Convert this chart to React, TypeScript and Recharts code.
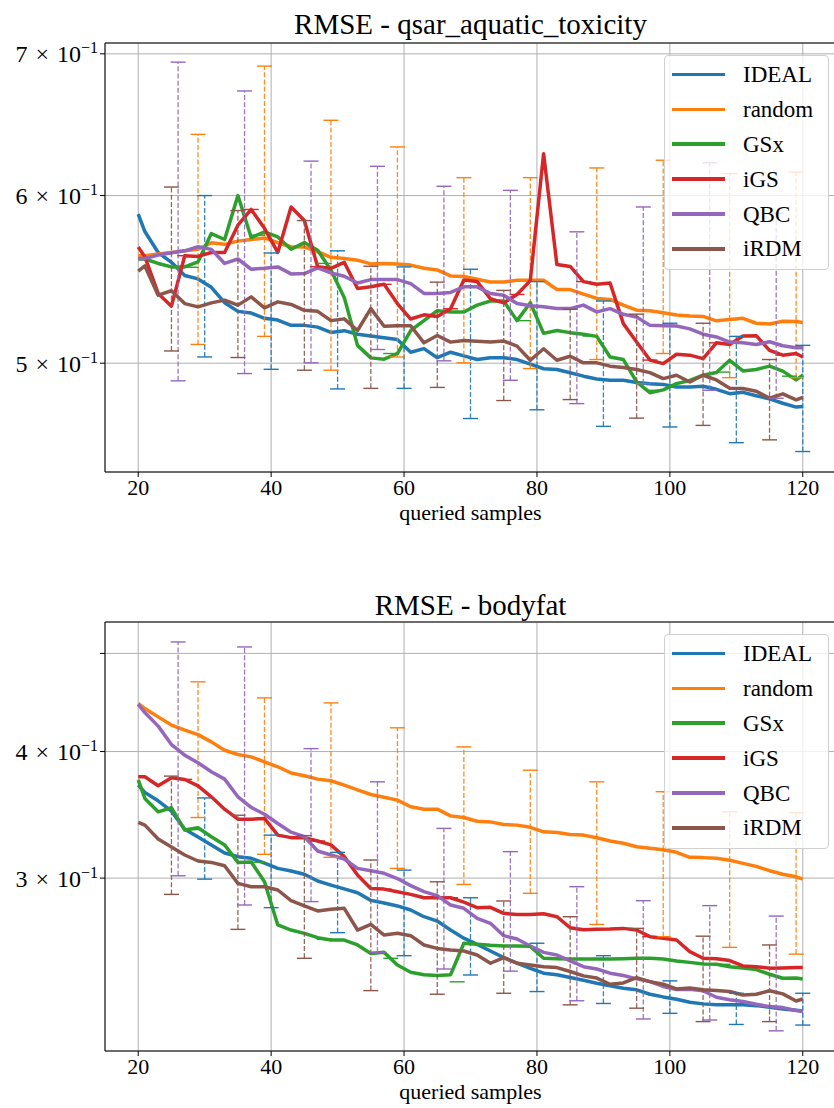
import React from 'react';
import {
  ComposedChart,
  Line,
  Scatter,
  XAxis,
  YAxis,
  CartesianGrid,
  ErrorBar,
  ReferenceLine,
} from 'recharts';

const FONT = '"Liberation Serif", "DejaVu Serif", serif';

const methods = ['IDEAL', 'random', 'GSx', 'iGS', 'QBC', 'iRDM'];
const colors = ['#1f77b4', '#ff7f0e', '#2ca02c', '#d62728', '#9467bd', '#8c564b'];

const samples = [
  20, 21, 23, 25, 27, 29, 31, 33, 35, 37, 39, 41, 43,
  45, 47, 49, 51, 53, 55, 57, 59, 61, 63, 65, 67, 69,
  71, 73, 75, 77, 79, 81, 83, 85, 87, 89, 91, 93, 95,
  97, 99, 101, 103, 105, 107, 109, 111, 113, 115, 117, 119, 120,
];
const xTicks = [20, 40, 60, 80, 100, 120];

// where each method has its error bar (every 10 queries, shifted per method)
const idealErrX = [30, 40, 50, 60, 70, 80, 90, 100, 110, 120];
const randomErrX = [29, 39, 49, 59, 69, 79, 89, 99, 109, 119];
const gsxErrX = [28, 38, 48, 58, 68, 78, 88, 98, 108, 118];
const igsErrX = [27, 37, 47, 57, 67, 77, 87, 97, 107, 117];
const qbcErrX = [26, 36, 46, 56, 66, 76, 86, 96, 106, 116];
const irdmErrX = [25, 35, 45, 55, 65, 75, 85, 95, 105, 115];

// ---- RMSE - qsar_aquatic_toxicity ----
const qsarIdeal = [
  0.588, 0.577, 0.564, 0.558, 0.550, 0.548, 0.543, 0.534, 0.529, 0.528, 0.525, 0.524, 0.521,
  0.521, 0.520, 0.517, 0.518, 0.516, 0.515, 0.514, 0.513, 0.506, 0.508, 0.503, 0.506, 0.504,
  0.502, 0.503, 0.503, 0.502, 0.4995, 0.497, 0.4966, 0.4948, 0.493, 0.4915, 0.4908, 0.4908, 0.4896,
  0.489, 0.4886, 0.4872, 0.4872, 0.4876, 0.486, 0.4837, 0.4844, 0.4826, 0.481, 0.4787, 0.4767, 0.477,
];
const qsarRandom = [
  0.562, 0.562, 0.563, 0.564, 0.565, 0.566, 0.570, 0.569, 0.571, 0.572, 0.573, 0.570, 0.5675,
  0.5673, 0.5645, 0.561, 0.5603, 0.5593, 0.557, 0.5573, 0.557, 0.5563, 0.5544, 0.5534, 0.5498, 0.5494,
  0.5478, 0.5462, 0.5462, 0.5472, 0.5472, 0.5472, 0.5417, 0.5417, 0.539, 0.5365, 0.5359, 0.5326, 0.5297,
  0.5294, 0.5282, 0.5269, 0.5263, 0.5261, 0.5236, 0.5244, 0.525, 0.5222, 0.5218, 0.5233, 0.5232, 0.5226,
];
const qsarGsx = [
  0.560, 0.560, 0.5573, 0.5552, 0.5552, 0.5583, 0.5757, 0.572, 0.600, 0.5732, 0.5768, 0.5736, 0.566,
  0.5701, 0.5654, 0.5532, 0.537, 0.5098, 0.5029, 0.5022, 0.5053, 0.5181, 0.5237, 0.5294, 0.5286, 0.5286,
  0.5326, 0.535, 0.535, 0.5237, 0.534, 0.5165, 0.5181, 0.5169, 0.516, 0.5148, 0.5034, 0.502, 0.490,
  0.4842, 0.4857, 0.489, 0.4907, 0.4935, 0.495, 0.5016, 0.4958, 0.4966, 0.4984, 0.4957, 0.491, 0.4935,
];
const qsarIgs = [
  0.5674, 0.5613, 0.5394, 0.532, 0.562, 0.5616, 0.564, 0.564, 0.581, 0.591, 0.579, 0.564, 0.5926,
  0.584, 0.5553, 0.5543, 0.558, 0.5423, 0.5433, 0.5448, 0.5335, 0.5246, 0.527, 0.526, 0.5305, 0.5473,
  0.5464, 0.5363, 0.5339, 0.5388, 0.547, 0.628, 0.5567, 0.5555, 0.5464, 0.5448, 0.5456, 0.522, 0.5117,
  0.5017, 0.4998, 0.5049, 0.5044, 0.5025, 0.5112, 0.5103, 0.515, 0.5152, 0.507, 0.5044, 0.5053, 0.5034,
];
const qsarQbc = [
  0.5603, 0.5603, 0.5624, 0.5638, 0.565, 0.5675, 0.5659, 0.5573, 0.560, 0.5538, 0.5544, 0.5552, 0.551,
  0.5512, 0.5546, 0.5516, 0.5496, 0.5456, 0.5476, 0.5476, 0.5476, 0.5452, 0.5394, 0.5394, 0.540, 0.5433,
  0.5433, 0.5394, 0.5384, 0.5335, 0.5322, 0.5316, 0.5306, 0.5306, 0.5326, 0.5287, 0.5306, 0.5273, 0.5258,
  0.521, 0.5208, 0.5206, 0.519, 0.516, 0.5145, 0.5116, 0.5112, 0.5103, 0.5118, 0.5096, 0.5085, 0.5085,
];
const qsarIrdm = [
  0.5527, 0.5558, 0.5384, 0.541, 0.5335, 0.5316, 0.5339, 0.5355, 0.5326, 0.5374, 0.531, 0.5345, 0.533,
  0.5296, 0.529, 0.5237, 0.5247, 0.5181, 0.5306, 0.5205, 0.5208, 0.5208, 0.5112, 0.5153, 0.5116, 0.5125,
  0.5121, 0.5117, 0.5122, 0.5094, 0.5016, 0.5079, 0.5016, 0.5038, 0.5002, 0.5002, 0.4984, 0.4977, 0.4966,
  0.4949, 0.4917, 0.4935, 0.4899, 0.4935, 0.491, 0.4866, 0.4864, 0.485, 0.4813, 0.4836, 0.4805, 0.4818,
];

const qsarIdealLow = [0.5034, 0.4967, 0.4862, 0.4865, 0.4708, 0.4753, 0.4668, 0.4665, 0.4586, 0.4542];
const qsarIdealHigh = [0.600, 0.5637, 0.565, 0.5552, 0.5538, 0.5464, 0.535, 0.5222, 0.5148, 0.5098];
const qsarRandomLow = [0.5103, 0.5148, 0.4962, 0.5034, 0.5002, 0.4971, 0.502, 0.5053, 0.4922, 0.4922];
const qsarRandomHigh = [0.6413, 0.6907, 0.6512, 0.6326, 0.6118, 0.6118, 0.6183, 0.6235, 0.6145, 0.6155];
const qsarGsxBar = [0.555, 0.5747, 0.5573, 0.5053, 0.5286, 0.5237, 0.515, 0.4855, 0.4952, 0.493];
const qsarIgsBar = [0.562, 0.591, 0.5553, 0.5448, 0.5305, 0.5388, 0.5464, 0.5017, 0.5112, 0.5044];
const qsarQbcLow = [0.4905, 0.4944, 0.5002, 0.5075, 0.5013, 0.4908, 0.4785, 0.489, 0.4855, 0.4813];
const qsarQbcHigh = [0.6937, 0.6723, 0.6229, 0.6194, 0.6061, 0.6034, 0.5768, 0.5926, 0.6218, 0.5886];
const qsarIrdmLow = [0.5067, 0.5031, 0.4962, 0.4865, 0.487, 0.4801, 0.4806, 0.471, 0.4673, 0.46];
const qsarIrdmHigh = [0.6056, 0.5903, 0.5839, 0.5556, 0.5461, 0.5412, 0.5302, 0.5274, 0.5222, 0.502];

// ---- RMSE - bodyfat ----
const fatIdeal = [
  0.3706, 0.3645, 0.3576, 0.3493, 0.3353, 0.3294, 0.3235, 0.3176, 0.315, 0.3138, 0.3104, 0.3067, 0.3049,
  0.3026, 0.298, 0.2953, 0.2927, 0.2902, 0.2852, 0.2835, 0.2816, 0.279, 0.2748, 0.2721, 0.2666, 0.2617,
  0.258, 0.2542, 0.2504, 0.2473, 0.2444, 0.2417, 0.2408, 0.2393, 0.2378, 0.2362, 0.2349, 0.2336, 0.2327,
  0.2304, 0.229, 0.2278, 0.2262, 0.2254, 0.225, 0.2249, 0.2249, 0.2245, 0.2237, 0.2228, 0.2222, 0.2218,
];
const fatRandom = [
  0.4462, 0.4411, 0.4328, 0.4248, 0.4199, 0.4157, 0.4089, 0.4012, 0.3973, 0.3952, 0.3907, 0.3864, 0.381,
  0.3786, 0.3757, 0.3743, 0.3706, 0.3667, 0.3628, 0.3606, 0.3582, 0.3528, 0.3509, 0.3509, 0.3456, 0.3443,
  0.3414, 0.3409, 0.3389, 0.3384, 0.3367, 0.3333, 0.3328, 0.3313, 0.3308, 0.3288, 0.3264, 0.3247, 0.3222,
  0.321, 0.320, 0.3181, 0.3145, 0.3143, 0.3138, 0.3124, 0.3102, 0.3081, 0.3051, 0.3026, 0.3009, 0.2993,
];
const fatGsx = [
  0.375, 0.3595, 0.3488, 0.352, 0.3346, 0.3364, 0.3296, 0.3235, 0.3109, 0.3112, 0.2975, 0.2697, 0.2666,
  0.2646, 0.262, 0.2606, 0.2606, 0.2577, 0.2527, 0.2534, 0.2462, 0.2422, 0.2408, 0.2404, 0.2408, 0.2587,
  0.2581, 0.2575, 0.2571, 0.2571, 0.2569, 0.25, 0.2498, 0.2496, 0.2496, 0.2496, 0.2496, 0.2498, 0.25,
  0.25, 0.2496, 0.2485, 0.2477, 0.2468, 0.2466, 0.2453, 0.2446, 0.2437, 0.2411, 0.2389, 0.2391, 0.2385,
];
const fatIgs = [
  0.3777, 0.3777, 0.3701, 0.3769, 0.3754, 0.370, 0.3609, 0.3509, 0.343, 0.343, 0.3436, 0.3308, 0.3289,
  0.3289, 0.3264, 0.3235, 0.315, 0.3021, 0.293, 0.2926, 0.2908, 0.2891, 0.2869, 0.2869, 0.2869, 0.284,
  0.2805, 0.2807, 0.2769, 0.2762, 0.2762, 0.2766, 0.2748, 0.268, 0.2668, 0.267, 0.2672, 0.2676, 0.2666,
  0.2626, 0.2616, 0.2606, 0.2538, 0.25, 0.2498, 0.2487, 0.2457, 0.2453, 0.2444, 0.2446, 0.2448, 0.2448,
];
const fatQbc = [
  0.4452, 0.4371, 0.4238, 0.4064, 0.3967, 0.3899, 0.382, 0.3757, 0.3609, 0.3523, 0.3469, 0.3397, 0.333,
  0.3296, 0.3191, 0.3162, 0.3133, 0.3067, 0.3051, 0.3033, 0.2997, 0.2949, 0.2909, 0.2883, 0.2822, 0.2801,
  0.2738, 0.2707, 0.2632, 0.2612, 0.2571, 0.2534, 0.2519, 0.2485, 0.2453, 0.244, 0.2417, 0.2404, 0.2386,
  0.2371, 0.2345, 0.2329, 0.233, 0.2322, 0.2288, 0.2275, 0.2266, 0.2252, 0.224, 0.2235, 0.222, 0.2215,
];
const fatIrdm = [
  0.3405, 0.3384, 0.3279, 0.322, 0.3162, 0.3119, 0.3109, 0.3085, 0.2964, 0.2942, 0.2942, 0.292, 0.285,
  0.2816, 0.2784, 0.2795, 0.2801, 0.2666, 0.27, 0.2636, 0.2646, 0.2632, 0.2577, 0.2557, 0.2548, 0.2542,
  0.2519, 0.2472, 0.2504, 0.2472, 0.2462, 0.2453, 0.2448, 0.2426, 0.2402, 0.239, 0.2357, 0.2364, 0.2393,
  0.2371, 0.2357, 0.2332, 0.2337, 0.2327, 0.2323, 0.2318, 0.23, 0.2304, 0.2322, 0.2306, 0.2269, 0.2279,
];

const fatIdealLow = [0.2993, 0.2805, 0.265, 0.2515, 0.2407, 0.2318, 0.2256, 0.2206, 0.2151, 0.2148];
const fatIdealHigh = [0.36, 0.3308, 0.3181, 0.3055, 0.2869, 0.2587, 0.2515, 0.2375, 0.2309, 0.2309];
const fatRandomLow = [0.3443, 0.3167, 0.3145, 0.3067, 0.2957, 0.2898, 0.27, 0.2626, 0.2563, 0.2524];
const fatRandomHigh = [0.4687, 0.4519, 0.4468, 0.4222, 0.4043, 0.3834, 0.3734, 0.3651, 0.3488, 0.348];
const fatGsxBar = [0.335, 0.311, 0.261, 0.25, 0.237, 0.257, 0.2496, 0.2498, 0.2466, 0.239];
const fatIgsBar = [0.3755, 0.343, 0.3264, 0.2926, 0.2869, 0.2762, 0.2668, 0.2626, 0.2498, 0.2446];
const fatQbcLow = [0.3016, 0.2822, 0.2844, 0.2534, 0.244, 0.2428, 0.227, 0.2178, 0.2173, 0.212];
const fatQbcHigh = [0.5132, 0.5074, 0.4027, 0.3734, 0.3359, 0.3186, 0.2942, 0.285, 0.2818, 0.2752];
const fatIrdmLow = [0.2891, 0.267, 0.25, 0.2323, 0.2304, 0.2309, 0.2249, 0.2232, 0.2165, 0.2165];
const fatIrdmHigh = [0.3783, 0.3461, 0.3304, 0.3126, 0.2975, 0.2848, 0.2748, 0.2676, 0.2629, 0.2577];

type Series = {
  name: string;
  color: string;
  values: number[];
  errX: number[];
  low: number[];
  high: number[];
};

const makeSeries = (vals: number[][], lows: number[][], highs: number[][]): Series[] => {
  const errXs = [idealErrX, randomErrX, gsxErrX, igsErrX, qbcErrX, irdmErrX];
  return methods.map((name, i) => ({
    name,
    color: colors[i],
    values: vals[i],
    errX: errXs[i],
    low: lows[i],
    high: highs[i],
  }));
};

const qsarSeries = makeSeries(
  [qsarIdeal, qsarRandom, qsarGsx, qsarIgs, qsarQbc, qsarIrdm],
  [qsarIdealLow, qsarRandomLow, qsarGsxBar, qsarIgsBar, qsarQbcLow, qsarIrdmLow],
  [qsarIdealHigh, qsarRandomHigh, qsarGsxBar, qsarIgsBar, qsarQbcHigh, qsarIrdmHigh]
);
const fatSeries = makeSeries(
  [fatIdeal, fatRandom, fatGsx, fatIgs, fatQbc, fatIrdm],
  [fatIdealLow, fatRandomLow, fatGsxBar, fatIgsBar, fatQbcLow, fatIrdmLow],
  [fatIdealHigh, fatRandomHigh, fatGsxBar, fatIgsBar, fatQbcHigh, fatIrdmHigh]
);

const LogTick = (props: any) => {
  const { x, y, payload, hideLabels } = props;
  const v = payload.value;
  if (hideLabels && hideLabels.includes(v)) return null;
  const mant = Math.round(v * 10);
  return (
    <text x={x} y={y} dy={8.5} textAnchor="end" fill="#000" fontSize={24} fontFamily={FONT}>
      {`${mant}\u2004×\u200410`}
      <tspan dy={-9} fontSize={16}>
        −1
      </tspan>
    </text>
  );
};

const capShape = (color: string) => (p: any) => (
  <line x1={p.cx - 7.5} x2={p.cx + 7.5} y1={p.cy} y2={p.cy} stroke={color} strokeWidth={1.4} />
);
const noDot = () => <g />;

type PanelProps = {
  title: string;
  series: Series[];
  domain: [number, number];
  yTicks: number[];
  hideLabels: number[];
  top: number;
  marginTop: number;
  axisHeight: number;
  labelOffset: number;
  titleTop: number;
};

const Panel: React.FC<PanelProps> = ({
  title, series, domain, yTicks, hideLabels, top, marginTop, axisHeight, labelOffset, titleTop,
}) => {
  const rows = samples.map((x, i) => {
    const r: any = { x };
    series.forEach((s) => (r[s.name] = s.values[i]));
    return r;
  });

  const marks: React.ReactNode[] = [];
  series.forEach((s) => {
    const spread = s.low.some((v, i) => s.high[i] > v);
    if (spread) {
      const barRows = s.errX.map((x, i) => ({ x, y: s.low[i], err: [0, s.high[i] - s.low[i]] }));
      marks.push(
        <Scatter key={s.name + '-bar'} data={barRows} dataKey="y" shape={noDot} isAnimationActive={false}>
          <ErrorBar
            dataKey="err"
            direction="y"
            width={0}
            stroke={s.color}
            strokeWidth={1.3}
            strokeDasharray="5 2.2"
            strokeOpacity={0.9}
            isAnimationActive={false}
          />
        </Scatter>
      );
    }
    const caps = s.errX.flatMap((x, i) =>
      spread ? [{ x, y: s.low[i] }, { x, y: s.high[i] }] : [{ x, y: s.low[i] }]
    );
    marks.push(
      <Scatter key={s.name + '-cap'} data={caps} dataKey="y" shape={capShape(s.color)} isAnimationActive={false} />
    );
    marks.push(
      <Line
        key={s.name}
        dataKey={s.name}
        stroke={s.color}
        strokeWidth={3.5}
        strokeLinejoin="round"
        dot={false}
        isAnimationActive={false}
      />
    );
  });

  return (
    <div style={{ position: 'absolute', left: 0, top, width: 840, height: 554 }}>
      <div
        style={{
          position: 'absolute',
          left: 105,
          width: 731,
          top: titleTop,
          textAlign: 'center',
          fontFamily: FONT,
          fontSize: 29,
          lineHeight: '29px',
          color: '#000',
        }}
      >
        {title}
      </div>
      <ComposedChart
        width={840}
        height={554}
        data={rows}
        margin={{ top: marginTop, right: 4, bottom: 0, left: 0 }}
      >
        <CartesianGrid stroke="#b0b0b0" strokeWidth={1} />
        <XAxis
          dataKey="x"
          type="number"
          domain={[15, 125]}
          ticks={xTicks}
          allowDataOverflow
          height={axisHeight}
          tickSize={5}
          tickMargin={2}
          stroke="#000"
          tick={{ fill: '#000', fontSize: 22, fontFamily: FONT }}
          label={{
            value: 'queried samples',
            position: 'insideBottom',
            offset: labelOffset,
            fill: '#000',
            fontSize: 22,
            fontFamily: FONT,
          }}
        />
        <YAxis
          type="number"
          scale="log"
          domain={domain}
          ticks={yTicks}
          allowDataOverflow
          width={105}
          tickSize={5}
          tickMargin={2}
          stroke="#000"
          tick={<LogTick hideLabels={hideLabels} />}
        />
        <ReferenceLine y={domain[1]} stroke="#000" strokeWidth={1.1} />
        {marks}
      </ComposedChart>
      <div
        style={{
          position: 'absolute',
          left: 664,
          top: marginTop + 12,
          width: 165,
          height: 215,
          boxSizing: 'border-box',
          border: '1px solid #d0d0d0',
          borderRadius: 4,
          background: 'rgba(255,255,255,0.8)',
        }}
      >
        {methods.map((m, i) => (
          <div
            key={m}
            style={{
              position: 'absolute',
              left: 7,
              top: 1 + i * 34.9,
              height: 34.9,
              display: 'flex',
              alignItems: 'center',
            }}
          >
            <div style={{ width: 53, height: 3.5, background: colors[i] }} />
            <span style={{ marginLeft: 18, fontFamily: FONT, fontSize: 23, lineHeight: '23px', color: '#000' }}>
              {m}
            </span>
          </div>
        ))}
      </div>
    </div>
  );
};

export default function App() {
  return (
    <div
      style={{
        position: 'absolute',
        left: 0,
        top: 0,
        width: 834,
        height: 1108,
        overflow: 'hidden',
        background: '#fff',
      }}
    >
      <Panel
        title="RMSE - qsar_aquatic_toxicity"
        series={qsarSeries}
        domain={[0.4442, 0.7083]}
        yTicks={[0.5, 0.6, 0.7]}
        hideLabels={[]}
        top={0}
        marginTop={43}
        axisHeight={82}
        labelOffset={34}
        titleTop={10}
      />
      <Panel
        title="RMSE - bodyfat"
        series={fatSeries}
        domain={[0.2025, 0.537]}
        yTicks={[0.3, 0.4, 0.5]}
        hideLabels={[0.5]}
        top={554}
        marginTop={68}
        axisHeight={57}
        labelOffset={9}
        titleTop={37}
      />
    </div>
  );
}
